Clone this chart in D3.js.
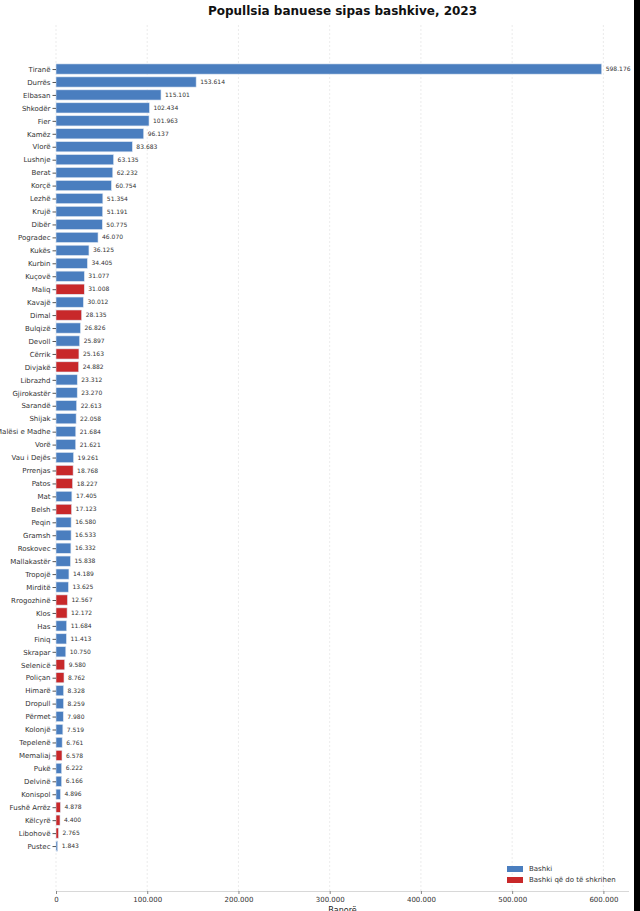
<!DOCTYPE html>
<html>
<head>
<meta charset="utf-8">
<script src="https://cdn.jsdelivr.net/npm/d3@7"></script>
<style>
  body { margin: 0; background: #fff; }
  svg { display: block; font-family: "DejaVu Sans", sans-serif; }
</style>
</head>
<body>
<div id="chart"></div>
<script>
// municipalities, population 2023, and whether they'll be merged
const bashkite = ["Tiranë","Durrës","Elbasan","Shkodër","Fier","Kamëz","Vlorë","Lushnje","Berat","Korçë",
  "Lezhë","Krujë","Dibër","Pogradec","Kukës","Kurbin","Kuçovë","Maliq","Kavajë","Dimal",
  "Bulqizë","Devoll","Cërrik","Divjakë","Librazhd","Gjirokastër","Sarandë","Shijak","Malësi e Madhe","Vorë",
  "Vau i Dejës","Prrenjas","Patos","Mat","Belsh","Peqin","Gramsh","Roskovec","Mallakastër","Tropojë",
  "Mirditë","Rrogozhinë","Klos","Has","Finiq","Skrapar","Selenicë","Poliçan","Himarë","Dropull",
  "Përmet","Kolonjë","Tepelenë","Memaliaj","Pukë","Delvinë","Konispol","Fushë Arrëz","Këlcyrë","Libohovë",
  "Pustec"];

const banore = [598176,153614,115101,102434,101963,96137,83683,63135,62232,60754,
  51354,51191,50775,46070,36125,34405,31077,31008,30012,28135,
  26826,25897,25163,24882,23312,23270,22613,22058,21684,21621,
  19261,18768,18227,17405,17123,16580,16533,16332,15838,14189,
  13625,12567,12172,11684,11413,10750,9580,8762,8328,8259,
  7980,7519,6761,6578,6222,6166,4896,4878,4400,2765,
  1843];

// bashki qe do te shkrihen (merged)
const shkrihen = ["Maliq","Dimal","Cërrik","Divjakë","Prrenjas","Patos","Belsh","Rrogozhinë","Klos",
  "Selenicë","Poliçan","Memaliaj","Fushë Arrëz","Këlcyrë","Libohovë"];

const xTicks = [0,100000,200000,300000,400000,500000,600000];
const legendLabels = ["Bashki","Bashki që do të shkrihen"];

const W = 640, H = 911;
const mLeft = 56, mRight = 629, mTop = 25, mBottom = 891;
const blue = "#4a7ebf", red = "#c8282a";

const fmt = v => d3.format(",")(v).replace(/,/g, ".");

const svg = d3.select("#chart").append("svg")
  .attr("width", W).attr("height", H);

const x = d3.scaleLinear()
  .domain([0, d3.max(banore) * 1.05])
  .range([mLeft, mRight]);

// index based y, with padding like the original's ylim
const y = d3.scaleLinear()
  .domain([-3.4, bashkite.length + 2.47])
  .range([mTop, mBottom]);
const bh = 10.2;

// grid
svg.append("g")
  .selectAll("line")
  .data(xTicks)
  .join("line")
  .attr("x1", d => x(d)).attr("x2", d => x(d))
  .attr("y1", mTop).attr("y2", mBottom)
  .attr("stroke", "#e6e6e6")
  .attr("stroke-width", 0.8)
  .attr("stroke-dasharray", "2,2");

// bars
svg.append("g")
  .selectAll("rect")
  .data(bashkite)
  .join("rect")
  .attr("x", x(0))
  .attr("y", (d, i) => y(i) - bh / 2)
  .attr("width", (d, i) => x(banore[i]) - x(0))
  .attr("height", bh)
  .attr("fill", d => shkrihen.includes(d) ? red : blue)
  .attr("stroke", "#dde6f2")
  .attr("stroke-width", 0.6);

// value labels
svg.append("g")
  .selectAll("text")
  .data(bashkite)
  .join("text")
  .attr("x", (d, i) => x(banore[i]) + 4)
  .attr("y", (d, i) => y(i))
  .attr("dy", "0.35em")
  .attr("font-size", 6)
  .attr("fill", "#333")
  .text((d, i) => fmt(banore[i]));

// y axis (ticks only, no spine)
const yAxis = svg.append("g")
  .attr("transform", `translate(${mLeft},0)`)
  .call(d3.axisLeft(y)
    .tickValues(d3.range(bashkite.length))
    .tickFormat(i => bashkite[i])
    .tickSize(3.5)
    .tickPadding(2));
yAxis.select(".domain").remove();
yAxis.selectAll(".tick line").attr("stroke", "#555");
yAxis.selectAll(".tick text")
  .attr("font-size", 7)
  .attr("font-family", "DejaVu Sans")
  .attr("fill", "#333");

// x axis
const xAxis = svg.append("g")
  .attr("transform", `translate(0,${mBottom})`)
  .call(d3.axisBottom(x)
    .tickValues(xTicks)
    .tickFormat(fmt)
    .tickSize(3)
    .tickPadding(3));
xAxis.select(".domain").attr("stroke", "#d8d8d8").attr("stroke-width", 1.2)
  .attr("d", `M${mLeft},0.5H${mRight}`);
xAxis.selectAll(".tick line").attr("stroke", "#888");
xAxis.selectAll(".tick text")
  .attr("font-size", 7)
  .attr("font-family", "DejaVu Sans")
  .attr("fill", "#333");

svg.append("text")
  .attr("x", (mLeft + mRight) / 2)
  .attr("y", 913)
  .attr("text-anchor", "middle")
  .attr("font-size", 8)
  .attr("fill", "#222")
  .text("Banorë");

// title
svg.append("text")
  .attr("x", (mLeft + mRight) / 2)
  .attr("y", 15)
  .attr("text-anchor", "middle")
  .attr("font-size", 12)
  .attr("font-weight", "bold")
  .attr("fill", "#111")
  .text("Popullsia banuese sipas bashkive, 2023");

// legend
const lg = svg.append("g").attr("transform", "translate(507,869)");
legendLabels.forEach((t, i) => {
  lg.append("rect")
    .attr("x", 0).attr("y", i * 11 - 3)
    .attr("width", 16).attr("height", 6)
    .attr("fill", i === 0 ? blue : red);
  lg.append("text")
    .attr("x", 22).attr("y", i * 11)
    .attr("dy", "0.35em")
    .attr("font-size", 7)
    .attr("fill", "#333")
    .text(t);
});

// dark strip at the right edge of the original capture
svg.append("rect")
  .attr("x", 634).attr("y", 0)
  .attr("width", 6).attr("height", H)
  .attr("fill", "#000");
</script>
</body>
</html>
